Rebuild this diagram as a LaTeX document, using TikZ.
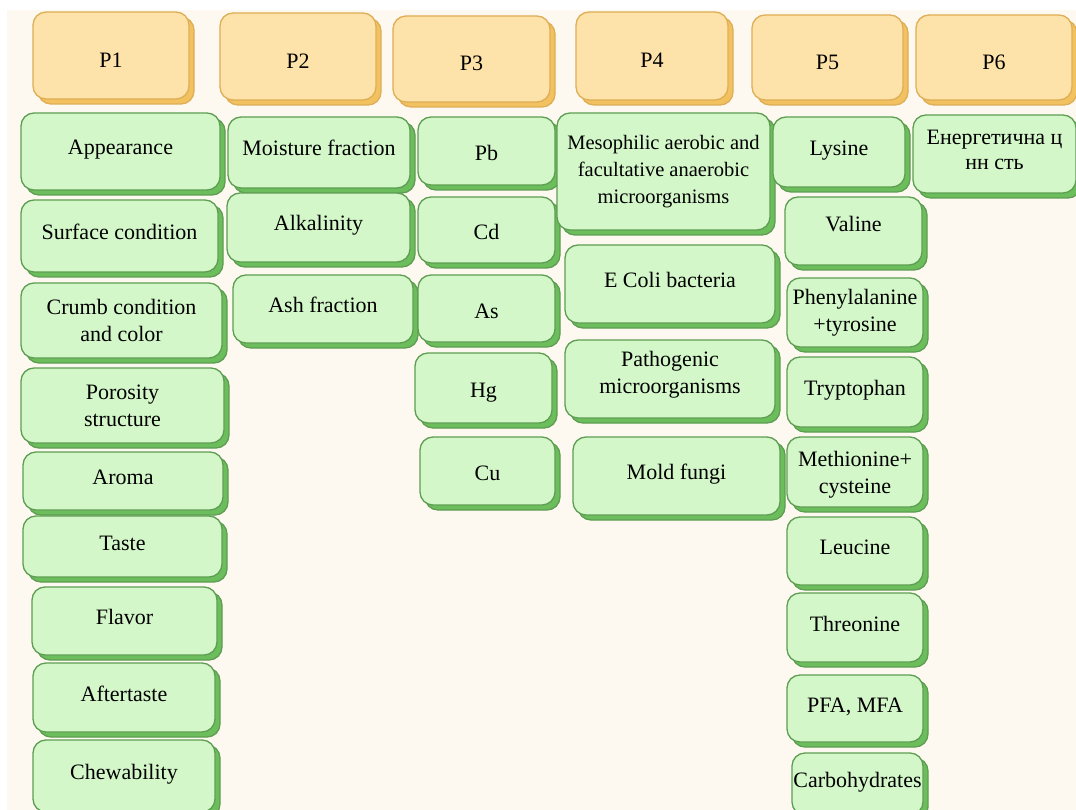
\documentclass[tikz,border=0pt]{standalone}
\usepackage{fontspec}
\setmainfont{Liberation Serif}
\usetikzlibrary{shadows}
\definecolor{bgcol}{HTML}{FDF8F0}
\definecolor{gfill}{HTML}{D4F7CA}
\definecolor{gborder}{HTML}{5E9E52}
\definecolor{gshadow}{HTML}{6CBE5C}
\definecolor{ofill}{HTML}{FDE3A9}
\definecolor{oborder}{HTML}{DFAE56}
\definecolor{oshadow}{HTML}{F2C160}
\tikzset{
  base/.style={rounded corners=13pt, line width=1.3pt, align=center, inner sep=0pt,
    text=black, font=\fontsize{22}{27}\selectfont},
  gbox/.style={base, draw=gborder, fill=gfill,
    general shadow={fill=gshadow, draw=gborder, shadow xshift=5pt, shadow yshift=-5pt}},
  obox/.style={base, draw=oborder, fill=ofill,
    general shadow={fill=oshadow, draw=oborder, shadow xshift=5pt, shadow yshift=-5pt}},
  one/.style={text height=16pt, text depth=9pt},
  low/.style={text height=22pt, text depth=3pt},
  head/.style={text height=28pt, text depth=4pt},
}
\newcommand\drawbx[7]{\node[#1, minimum width={(#5-#3)*1pt}, minimum height={(#6-#4)*1pt}] (#2) at ({(#3+#5)/2},{(#4+#6)/2}) {#7};}
\begin{document}
\begin{tikzpicture}[x=1pt,y=-1pt]
\useasboundingbox (0,0) rectangle (1076,810);
\fill[white] (0,0) rectangle (1076,810);
\fill[bgcol] (7,10) rectangle (1076,810);
\begin{scope}
\clip (0,0) rectangle (1076,810);
% headers
\drawbx{obox,head}{p1}{33}{12}{189}{99}{P1}
\drawbx{obox,head}{p2}{220}{13}{376}{100}{P2}
\drawbx{obox,head}{p3}{393}{16}{550}{102}{P3}
\drawbx{obox,head}{p4}{576}{12}{728}{100}{P4}
\drawbx{obox,head}{p5}{752}{15}{903}{100}{P5}
\drawbx{obox,head}{p6}{916}{15}{1072}{100}{P6}
% column 1
\drawbx{gbox,one}{appearance}{21}{113}{220}{190}{Appearance}
\drawbx{gbox,one}{surface}{21}{200}{218}{272}{Surface condition}
\drawbx{gbox}{crumb}{21}{283}{222}{358}{Crumb condition\\and color}
\drawbx{gbox}{porosity}{21}{368}{224}{443}{Porosity\\structure}
\drawbx{gbox,one}{aroma}{23}{452}{223}{510}{Aroma}
\drawbx{gbox,one}{taste}{23}{516}{222}{577}{Taste}
\drawbx{gbox,one}{flavor}{32}{587}{217}{655}{Flavor}
\drawbx{gbox,one}{aftertaste}{33}{663}{215}{732}{Aftertaste}
\drawbx{gbox,one}{chew}{33}{740}{215}{812}{Chewability}
% column 2
\drawbx{gbox,one}{moisture}{228}{117}{410}{188}{Moisture fraction}
\drawbx{gbox,one}{alkalinity}{227}{193}{410}{262}{Alkalinity}
\drawbx{gbox,one}{ash}{233}{275}{413}{343}{Ash fraction}
% column 3
\drawbx{gbox,low}{pb}{418}{117}{555}{185}{Pb}
\drawbx{gbox,low}{cd}{418}{197}{555}{263}{Cd}
\drawbx{gbox,low}{as}{418}{275}{555}{342}{As}
\drawbx{gbox,low}{hg}{415}{353}{552}{423}{Hg}
\drawbx{gbox,low}{cu}{420}{437}{555}{505}{Cu}
% column 4
\drawbx{gbox,font=\fontsize{20.5}{27}\selectfont}{meso}{557}{113}{770}{230}{Mesophilic aerobic and\\facultative anaerobic\\microorganisms}
\drawbx{gbox,one}{ecoli}{565}{245}{775}{323}{E Coli bacteria}
\drawbx{gbox,text depth=14pt}{patho}{565}{340}{775}{418}{Pathogenic\\microorganisms}
\drawbx{gbox,one}{mold}{573}{437}{780}{515}{Mold fungi}
% column 5
\drawbx{gbox,one}{lysine}{773}{117}{905}{187}{Lysine}
\drawbx{gbox,text height=16pt,text depth=15pt}{valine}{785}{197}{922}{265}{Valine}
\drawbx{gbox}{phenyl}{787}{278}{923}{347}{Phenylalanine\\+tyrosine}
\drawbx{gbox,one}{trypt}{787}{357}{923}{427}{Tryptophan}
\drawbx{gbox,text depth=0pt}{methio}{787}{437}{923}{507}{Methionine+\\cysteine}
\drawbx{gbox,one}{leucine}{787}{517}{923}{585}{Leucine}
\drawbx{gbox,one}{threonine}{787}{593}{923}{662}{Threonine}
\drawbx{gbox,one}{pfa}{787}{675}{923}{742}{PFA, MFA}
\drawbx{gbox,one}{carbo}{792}{753}{923}{815}{Carbohydrates}
% column 6
\drawbx{gbox,font=\fontsize{22}{25}\selectfont,text depth=9pt}{energ}{913}{115}{1076}{193}{Енергетична ц\\нн сть}
\end{scope}
\end{tikzpicture}
\end{document}
